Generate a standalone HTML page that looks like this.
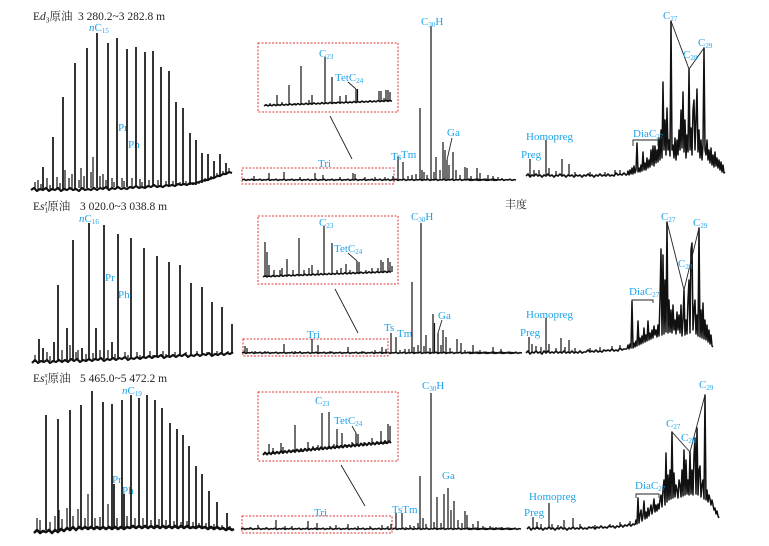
<!DOCTYPE html>
<html><head><meta charset="utf-8">
<style>
html,body{margin:0;padding:0;background:#fff;}
svg{display:block;}
.t{font-family:"Liberation Serif","Noto Serif CJK SC",serif;fill:#231f20;font-size:11.5px;}
.l{font-family:"Liberation Serif",serif;fill:#1ca3ea;font-size:11px;}
.pk{stroke:#111;fill:none;stroke-width:1.7;}
.pm{stroke:#111;fill:none;stroke-width:1.2;}
.bl{stroke:#111;fill:none;stroke-width:2.2;stroke-linejoin:round;}
.bm{stroke:#111;fill:none;stroke-width:1.6;stroke-linejoin:round;}
.zz{stroke:#111;fill:none;stroke-width:1.5;stroke-linejoin:round;}
.ln{stroke:#222;fill:none;stroke-width:0.9;}
.rb{stroke:#e0363b;fill:none;stroke-width:1;stroke-dasharray:2 1.5;}
</style></head>
<body>
<svg width="769" height="546" viewBox="0 0 769 546" xmlns="http://www.w3.org/2000/svg">

<!-- ================= ROW 1 ================= -->
<text class="t" x="33" y="20">E<tspan font-style="italic">d</tspan><tspan font-size="7.5" dy="2.5">3</tspan><tspan dy="-2.5">原油</tspan></text>
<text class="t" x="78" y="20">3 280.2~3 282.8 m</text>
<text class="l" x="89" y="31"><tspan font-style="italic">n</tspan>C<tspan font-size="7" dy="2">15</tspan></text>
<text class="l" x="118" y="131">Pr</text>
<text class="l" x="128" y="148">Ph</text>

<polyline class="bl" points="31,190 34,188 37,191 40,189 43,190 46,188 49,191 52,189 55,190 58,188 61,191 64,189 67,190 70,188 73,190 76,189 79,191 82,188 85,190 88,189 91,190 94,188 97,190 100,188 103,189 106,187 109,190 112,188 115,189 118,187 121,189 124,188 127,189 130,187 133,188 136,186 139,188 142,187 145,188 148,186 151,187 154,185 157,187 160,186 163,187 166,185 169,186 172,185 175,186 178,184 181,185 184,184 187,185 190,183 193,184 196,183 199,182 202,181 205,180 208,180 211,178 214,178 217,176 220,176 223,174 226,174 229,172 232,173"/>
<path class="pk" d="M43 190V167M53 189V137M63 189V97M75 189V63M87 188V48M97 188V33M108 188V43M117 187V38M127 187V49M136 187V47M145 187V52M153 186V51M161 186V67M169 186V71M176 186V102M183 185V108M190 185V133M196 185V140M202 183V153M208 181V154M214 178V161M220 176V154M226 174V163"/>
<path class="pm" d="M35 190V182M38 190V180M41 190V184M47 190V178M50 190V185M57 189V177M60 189V183M65 189V170M69 189V178M72 189V174M79 188V180M81 188V168M84 188V176M91 188V172M93 188V157M100 188V176M103 188V174M106 188V180M112 187V178M114 187V182M122 187V178M124 187V181M132 187V178M140 187V179M142 187V182M149 186V180M158 186V180M166 186V181M173 186V181M180 185V182M186 185V181M193 185V182M199 184V181M205 182V178M211 180V176M217 177V173M223 175V171M229 173V168"/>

<!-- middle row1 -->
<path class="bm" d="M242 180l2-.8 2 1.2 2-.8 2 .4 2-.8 2 1.2 2-.8 2 .4 2-.8 2 1.2 2-.8 2 .4 2-.8 2 1.2 2-.8 2 .4 2-.8 2 1.2 2-.8 2 .4 2-.8 2 1.2 2-.8 2 .4 2-.8 2 1.2 2-.8 2 .4 2-.8 2 1.2 2-.8 2 .4 2-.8 2 1.2 2-.8 2 .4 2-.8 2 1.2 2-.8 2 .4 2-.8 2 1.2 2-.8 2 .4 2-.8 2 1.2 2-.8 2 .4 2-.8 2 1.2 2-.8 2 .4 2-.8 2 1.2 2-.8 2 .4 2-.8 2 1.2 2-.8 2 .4 2-.8 2 1.2 2-.8 2 .4 2-.8 2 1.2 2-.8 2 .4 2-.8 2 1.2 2-.8 2 .4 2-.8 2 1.2 2-.8 2 .4 2-.8 2 1.2 2-.8 2 .4 2-.8 2 1.2 2-.8 2 .4 2-.8 2 1.2 2-.8 2 .4 2-.8 2 1.2 2-.8 2 .4 2-.8 2 1.2 2-.8 2 .4 2-.8 2 1.2 2-.8 2 .4 2-.8 2 1.2 2-.8 2 .4 2-.8 2 1.2 2-.8 2 .4 2-.8 2 1.2 2-.8 2 .4 2-.8 2 1.2 2-.8 2 .4 2-.8 2 1.2 2-.8 2 .4 2-.8 2 1.2 2-.8 2 .4 2-.8 2 1.2 2-.8 2 .4"/>
<path class="bm" d="M468 180l2-.8 2 1.2 2-.8 2 .4 2-.8 2 1.2 2-.8 2 .4 2-.8 2 1.2 2-.8 2 .4 2-.8 2 1.2 2-.8 2 .4 2-.8 2 1.2 2-.8 2 .4 2-.8 2 1.2 2-.8 2 .4"/>
<path class="pm" d="M254 180V176M269 180V173M284 180V172M300 180V177M315 180V173M323 180V175M340 180V177M353 180V173M355 180V174M365 180V177M375 180V177M385 180V177M393 180V176M398 180V156M403 180V162M408 180V176M412 180V175M416 180V174M420 180V108M422 180V170M424 180V172M427 180V175M431 180V26M434 180V172M436 180V157M440 180V170M443 180V142M445 180V150M447 180V160M449 180V165M453 180V152M456 180V170M460 180V175M465 180V167M467 180V168M471 180V176M477 180V168M480 180V173M488 180V175M493 180V176M498 180V177M502 180V178"/>
<rect class="rb" x="242" y="168" width="152" height="16"/>
<rect class="rb" x="258" y="43" width="140" height="69"/>
<path class="bm" d="M264 106l2-1.3 2 1.2 2-1 2 .8
2-1.3 2 1.2 2-1 2 .8
2-1.3 2 1.2 2-1 2 .8
2-1.3 2 1.2 2-1 2 .8
2-1.3 2 1.2 2-1 2 .8
2-1.3 2 1.2 2-1 2 .8
2-1.3 2 1.2 2-1 2 .8
2-1.3 2 1.2 2-1 2 .8
2-1.3 2 1.2 2-1 2 .8
2-1.3 2 1.2 2-1 2 .8
2-1.3 2 1.2 2-1 2 .8
2-1.3 2 1.2 2-1 2 .8
2-1.3 2 1.2 2-1 2 .8
2-1.3 2 1.2 2-1 2 .8
2-1.3 2 1.2 2-1 2 .8
2-1.3 2 1.2 2-1 2 .8"/>
<path class="pm" d="M270 106V103M277 105V95M282 105V102M289 105V85M295 105V103M301 105V66M306 104V103M309 104V100M312 104V95M318 104V103M325 104V57M332 103V77M336 103V102M340 103V96M346 103V95M350 103V102M356 102V89M357.5 102V89M365 102V101M370 102V100M375 102V101M379 101V91M381 101V91M384 101V98M386 101V90M388 101V90M390 101V92"/>
<path class="ln" d="M330 116L352 159M348 82L356 89M452 138L447 160"/>
<text class="l" x="319" y="57">C<tspan font-size="7" dy="2">23</tspan></text>
<text class="l" x="335" y="81">TetC<tspan font-size="7" dy="2">24</tspan></text>
<text class="l" x="318" y="167">Tri</text>
<text class="l" x="391" y="160">Ts</text>
<text class="l" x="401" y="158">Tm</text>
<text class="l" x="421" y="25">C<tspan font-size="7" dy="2">30</tspan><tspan dy="-2">H</tspan></text>
<text class="l" x="447" y="136">Ga</text>

<!-- right row1 -->
<polyline class="bm" points="526,176 528,174 530,177 532,175 534,176 536,174 538,176 540,175 542,177 544,175 546,176 548,174 550,176 552,175 554,177 556,175 558,176 560,174 562,176 564,175 566,177 568,175 570,176 572,175 574,177 576,175 578,176 580,175 582,177 584,175 586,176 588,174 590,176 592,175 594,177 596,175 598,176 600,174 602,176 604,175 606,176 608,174 610,176 612,175 614,176 616,173 618,175 620,174 622,175 624,173 626,175 627,175"/>
<path class="pm" d="M530 176V159M534 176V170M539 176V170M546 176V140M549 176V168M556 176V171M562 176V159M569 176V164M575 176V172M590 176V172M605 175V172M615 175V170M620 175V170"/>
<polyline class="zz" points="627,175 628,171 629,175 630,170 631,174 632,168 633,174 634,166 635,173 636,170 637,143 638,172 639,168 640,172 641,165 642,171 643,152 644,170 645,163 646,170 647,158 648,168 649,160 650,167 651,150 652,165 653,146 654,166 655,146 656,163 657,150 658,162 659,138 660,160 661,130 662,158 663,82 664,150 665,120 666,155 667,108 668,150 669,140 670,156 671,21 672,150 673,145 674,158 675,138 676,160 677,140 678,155 679,130 680,150 681,110 682,148 683,92 684,152 685,120 686,158 687,135 688,152 689,69 690,150 691,128 692,155 693,110 694,100 695,150 696,120 697,89 698,152 699,130 700,158 701,140 702,160 703,145 704,48 705,150 706,155 707,140 708,160 709,150 710,163 711,148 712,165 713,155 714,167 715,152 716,166 717,158 718,168 719,160 720,170 721,162 722,172 723,165 724,173 725,172"/>
<path class="ln" d="M633 146V140H658V146M671 21L689 69L704 48"/>
<text class="l" x="521" y="158">Preg</text>
<text class="l" x="526" y="140">Homopreg</text>
<text class="l" x="633" y="137">DiaC<tspan font-size="7" dy="2">27</tspan></text>
<text class="l" x="663" y="19">C<tspan font-size="7" dy="2">27</tspan></text>
<text class="l" x="683" y="58">C<tspan font-size="7" dy="2">28</tspan></text>
<text class="l" x="698" y="46">C<tspan font-size="7" dy="2">29</tspan></text>

<!-- ================= ROW 2 ================= -->
<text class="t" x="33" y="210">E<tspan font-style="italic">s</tspan><tspan font-size="7" dy="2.5">1</tspan><tspan font-size="7" font-style="italic" dx="-3.5" dy="-7">z</tspan><tspan dy="4.5">原油</tspan></text>
<text class="t" x="80" y="210">3 020.0~3 038.8 m</text>
<text class="l" x="79" y="222"><tspan font-style="italic">n</tspan>C<tspan font-size="7" dy="2">16</tspan></text>
<text class="l" x="105" y="281">Pr</text>
<text class="l" x="118" y="298">Ph</text>
<text class="t" x="505" y="208" style="font-size:11px">丰度</text>

<polyline class="bl" points="32,363 35,360 38,363 41,361 44,362 47,360 50,363 53,361 56,362 59,360 62,362 65,360 68,362 71,359 74,361 77,359 80,362 83,360 86,361 89,359 92,361 95,359 98,360 101,358 104,361 107,359 110,360 113,358 116,360 119,358 122,359 125,357 128,360 131,358 134,359 137,357 140,359 143,357 146,358 149,356 152,358 155,356 158,357 161,355 164,358 167,356 170,357 173,355 176,357 179,355 182,356 185,354 188,357 191,355 194,356 197,354 200,356 203,354 206,355 209,353 212,356 215,354 218,355 221,353 224,355 227,353 230,354 233,352"/>
<path class="pk" d="M39 362V339M43 362V348M54 361V342M58 361V285M67 361V328M73 360V240M82 360V348M89 360V223M96 359V328M104 359V225M112 359V342M118 359V234M131 358V238M144 358V248M157 357V256M169 357V262M180 356V265M191 356V283M202 355V287M212 355V302M222 354V307M232 354V324"/>
<path class="pm" d="M35 362V355M47 361V352M50 361V356M62 361V350M70 360V345M76 360V352M78 360V350M86 360V354M93 360V353M100 359V350M108 359V350M115 359V354M125 358V352M128 358V355M137 358V352M140 358V355M150 357V351M153 357V355M163 357V351M166 357V354M175 356V352M186 356V352M197 355V351M207 355V352M217 354V351M228 354V351"/>

<!-- middle row2 -->
<path class="bm" d="M242 353l2-.8 2 1.2 2-.8 2 .4 2-.8 2 1.2 2-.8 2 .4 2-.8 2 1.2 2-.8 2 .4 2-.8 2 1.2 2-.8 2 .4 2-.8 2 1.2 2-.8 2 .4 2-.8 2 1.2 2-.8 2 .4 2-.8 2 1.2 2-.8 2 .4 2-.8 2 1.2 2-.8 2 .4 2-.8 2 1.2 2-.8 2 .4 2-.8 2 1.2 2-.8 2 .4 2-.8 2 1.2 2-.8 2 .4 2-.8 2 1.2 2-.8 2 .4 2-.8 2 1.2 2-.8 2 .4 2-.8 2 1.2 2-.8 2 .4 2-.8 2 1.2 2-.8 2 .4 2-.8 2 1.2 2-.8 2 .4 2-.8 2 1.2 2-.8 2 .4 2-.8 2 1.2 2-.8 2 .4 2-.8 2 1.2 2-.8 2 .4 2-.8 2 1.2 2-.8 2 .4 2-.8 2 1.2 2-.8 2 .4 2-.8 2 1.2 2-.8 2 .4 2-.8 2 1.2 2-.8 2 .4 2-.8 2 1.2 2-.8 2 .4 2-.8 2 1.2 2-.8 2 .4 2-.8 2 1.2 2-.8 2 .4 2-.8 2 1.2 2-.8 2 .4 2-.8 2 1.2 2-.8 2 .4 2-.8 2 1.2 2-.8 2 .4 2-.8 2 1.2 2-.8 2 .4 2-.8 2 1.2 2-.8 2 .4 2-.8 2 1.2 2-.8 2 .4 2-.8 2 1.2 2-.8 2 .4 2-.8 2 1.2 2-.8 2 .4 2-.8 2 1.2 2-.8 2 .4"/>
<path class="bm" d="M468 353l2-.8 2 1.2 2-.8 2 .4 2-.8 2 1.2 2-.8 2 .4 2-.8 2 1.2 2-.8 2 .4 2-.8 2 1.2 2-.8 2 .4 2-.8 2 1.2 2-.8 2 .4 2-.8 2 1.2 2-.8 2 .4"/>
<path class="pm" d="M245 353V346M247 353V348M255 353V351M265 353V351M284 353V344M295 353V351M300 353V351M312 353V339M318 353V345M330 353V351M348 353V347M362 353V351M375 353V350M382 353V347M386 353V349M391 353V333M396 353V337M400 353V350M405 353V349M409 353V349M412 353V282M414 353V347M418 353V345M421 353V223M424 353V346M426 353V335M430 353V348M433 353V314M434.5 353V323M438 353V333M441 353V345M443 353V330M446 353V337M450 353V348M457 353V339M461 353V343M465 353V350M473 353V345M480 353V350M493 353V347M501 353V349"/>
<rect class="rb" x="243" y="339" width="145" height="17"/>
<rect class="rb" x="258" y="216" width="140" height="68"/>
<path class="bm" d="M263 277l2-1.3 2 1.2 2-1 2 .8
2-1.3 2 1.2 2-1 2 .8
2-1.3 2 1.2 2-1 2 .8
2-1.3 2 1.2 2-1 2 .8
2-1.3 2 1.2 2-1 2 .8
2-1.3 2 1.2 2-1 2 .8
2-1.3 2 1.2 2-1 2 .8
2-1.3 2 1.2 2-1 2 .8
2-1.3 2 1.2 2-1 2 .8
2-1.3 2 1.2 2-1 2 .8
2-1.3 2 1.2 2-1 2 .8
2-1.3 2 1.2 2-1 2 .8
2-1.3 2 1.2 2-1 2 .8
2-1.3 2 1.2 2-1 2 .8
2-1.3 2 1.2 2-1 2 .8
2-1.3 2 1.2 2-1 2 .8"/>
<path class="pm" d="M265 277V242M267 277V252M269 277V265M274 277V270M280 276V270M282 276V268M287 276V259M293 276V270M299 276V238M304 275V270M309 275V268M312 275V265M318 275V270M324 275V226M332 274V243M337 274V270M341 274V268M346 274V264M350 274V270M357 273V261M359 273V262M366 273V270M372 273V268M378 273V268M381 272V260M383 272V262M388 272V258M390 272V262M392 272V266"/>
<path class="ln" d="M335 289L358 333M348 253L357 261M442 320L438 333"/>
<text class="l" x="319" y="226">C<tspan font-size="7" dy="2">23</tspan></text>
<text class="l" x="334" y="252">TetC<tspan font-size="7" dy="2">24</tspan></text>
<text class="l" x="307" y="338">Tri</text>
<text class="l" x="384" y="331">Ts</text>
<text class="l" x="397" y="337">Tm</text>
<text class="l" x="411" y="220">C<tspan font-size="7" dy="2">30</tspan><tspan dy="-2">H</tspan></text>
<text class="l" x="438" y="319">Ga</text>

<!-- right row2 -->
<polyline class="bm" points="526,353 528,351 530,354 532,352 534,353 536,351 538,353 540,352 542,354 544,351 546,353 548,351 550,353 552,352 554,353 556,351 558,353 560,352 562,353 564,351 566,353 568,352 570,353 572,351 574,353 576,352 578,353 580,351 582,353 584,352 586,352 588,350 590,352 592,351 594,352 596,350 598,352 600,351 602,352 604,350 606,351 608,350 610,351 612,349 614,351 616,350 618,351 620,348 622,350 624,349 627,349"/>
<path class="pm" d="M529 353V337M532 353V344M536 352V346M541 352V347M546 352V318M549 352V344M556 352V348M561 352V338M565 352V347M569 352V340M575 352V348M590 351V348M600 351V347M612 350V346M620 349V345"/>
<polyline class="zz" points="627,349 628,345 629,349 630,344 631,348 632,301 633,348 634,343 635,347 636,341 637,346 638,321 639,345 640,338 641,344 642,336 643,343 644,328 645,342 646,335 647,341 648,321 649,340 650,333 651,339 652,330 653,338 654,326 655,335 656,330 657,337 658,325 659,336 660,300 661,249 662,335 663,255 664,334 665,280 666,332 667,222 668,333 669,300 670,332 671,310 672,333 673,305 674,330 675,320 676,334 677,312 678,330 679,315 680,333 681,305 682,336 683,320 684,290 685,335 686,320 687,334 688,300 689,280 690,333 691,250 692,243 693,330 694,310 695,300 696,334 697,315 698,336 699,228 700,337 701,310 702,338 703,303 704,339 705,320 706,340 707,325 708,342 709,330 710,344 711,335 712,346 713,347"/>
<path class="ln" d="M632 303V300H653V303M667 222L684 290L699 228"/>
<text class="l" x="520" y="336">Preg</text>
<text class="l" x="526" y="318">Homopreg</text>
<text class="l" x="629" y="295">DiaC<tspan font-size="7" dy="2">27</tspan></text>
<text class="l" x="661" y="220">C<tspan font-size="7" dy="2">27</tspan></text>
<text class="l" x="678" y="267">C<tspan font-size="7" dy="2">28</tspan></text>
<text class="l" x="693" y="226">C<tspan font-size="7" dy="2">29</tspan></text>

<!-- ================= ROW 3 ================= -->
<text class="t" x="33" y="382">E<tspan font-style="italic">s</tspan><tspan font-size="7" dy="2.5">1</tspan><tspan font-size="7" font-style="italic" dx="-3.5" dy="-7">x</tspan><tspan dy="4.5">原油</tspan></text>
<text class="t" x="80" y="382">5 465.0~5 472.2 m</text>
<text class="l" x="122" y="394"><tspan font-style="italic">n</tspan>C<tspan font-size="7" dy="2">19</tspan></text>
<text class="l" x="112" y="483">Pr</text>
<text class="l" x="122" y="494">Ph</text>

<polyline class="bl" style="stroke-width:2.6" points="34,533 37,530 40,533 43,531 46,532 49,530 52,533 55,530 58,532 61,529 64,531 67,528 70,530 73,527 76,530 79,527 82,529 85,527 88,529 91,527 94,529 97,527 100,529 103,527 106,529 109,527 112,529 115,527 118,529 121,527 124,529 127,527 130,528 133,526 136,528 139,526 142,528 145,526 148,528 151,526 154,528 157,526 160,528 163,526 166,528 169,526 172,528 175,526 178,528 181,526 184,528 187,526 190,528 193,527 196,528 199,526 202,528 205,527 208,529 211,527 214,529 217,527 220,529 223,528 226,530 229,528 232,530 234,529"/>
<path class="pk" d="M46 530V415M58 530V419M70 529V410M81 528V405M92 528V391M103 528V402M112 528V404M122 528V400M131 527V395M139 527V398M147 527V395M155 527V400M162 527V408M170 527V423M177 527V429M183 527V435M189 527V446M196 527V466M202 527V474M209 528V491M217 528V502M227 529V513M114 528V484M124 528V494"/>
<path class="pm" d="M37 532V518M40 532V520M50 530V522M55 530V516M59 530V510M62 530V519M67 529V508M73 529V516M78 529V509M85 528V518M88 528V494M95 528V518M100 528V517M108 528V504M117 528V518M127 527V516M135 527V518M143 527V518M151 527V520M159 527V519M166 527V520M174 527V521M181 527V522M187 527V521M193 527V522M199 527V523M206 528V523M214 528V524M222 529V525M230 529V526"/>

<!-- middle row3 -->
<path class="bm" d="M241 529l2-.8 2 1.2 2-.8 2 .4 2-.8 2 1.2 2-.8 2 .4 2-.8 2 1.2 2-.8 2 .4 2-.8 2 1.2 2-.8 2 .4 2-.8 2 1.2 2-.8 2 .4 2-.8 2 1.2 2-.8 2 .4 2-.8 2 1.2 2-.8 2 .4 2-.8 2 1.2 2-.8 2 .4 2-.8 2 1.2 2-.8 2 .4 2-.8 2 1.2 2-.8 2 .4 2-.8 2 1.2 2-.8 2 .4 2-.8 2 1.2 2-.8 2 .4 2-.8 2 1.2 2-.8 2 .4 2-.8 2 1.2 2-.8 2 .4 2-.8 2 1.2 2-.8 2 .4 2-.8 2 1.2 2-.8 2 .4 2-.8 2 1.2 2-.8 2 .4 2-.8 2 1.2 2-.8 2 .4 2-.8 2 1.2 2-.8 2 .4 2-.8 2 1.2 2-.8 2 .4 2-.8 2 1.2 2-.8 2 .4 2-.8 2 1.2 2-.8 2 .4 2-.8 2 1.2 2-.8 2 .4 2-.8 2 1.2 2-.8 2 .4 2-.8 2 1.2 2-.8 2 .4 2-.8 2 1.2 2-.8 2 .4 2-.8 2 1.2 2-.8 2 .4 2-.8 2 1.2 2-.8 2 .4 2-.8 2 1.2 2-.8 2 .4 2-.8 2 1.2 2-.8 2 .4 2-.8 2 1.2 2-.8 2 .4 2-.8 2 1.2 2-.8 2 .4 2-.8 2 1.2 2-.8 2 .4 2-.8 2 1.2 2-.8 2 .4 2-.8 2 1.2 2-.8 2 .4"/>
<path class="bm" d="M467 529l2-.8 2 1.2 2-.8 2 .4 2-.8 2 1.2 2-.8 2 .4 2-.8 2 1.2 2-.8 2 .4 2-.8 2 1.2 2-.8 2 .4 2-.8 2 1.2 2-.8 2 .4 2-.8 2 1.2 2-.8 2 .4"/>
<path class="pm" d="M250 529V527M258 529V525M266 529V527M276 529V520M285 529V526M292 529V526M308 529V521M317 529V523M330 529V526M336 529V525M348 529V524M358 529V526M370 529V526M382 529V525M388 529V526M391 529V524M396 529V513M402 529V513M406 529V527M410 529V525M414 529V526M418 529V523M420 529V476M423 529V518M426 529V524M431 529V393M434 529V522M437 529V497M441 529V523M444 529V494M448 529V488M451 529V510M454 529V501M458 529V520M462 529V523M465 529V511M467 529V515M473 529V524M478 529V521M483 529V526M490 529V526M496 529V527M502 529V527"/>
<rect class="rb" x="242" y="516" width="150" height="17"/>
<rect class="rb" x="258" y="392" width="140" height="69"/>
<path class="bm" style="stroke-width:2" d="M263 455l2-2.5 2 2 2-2 2 1.75
2-2.5 2 2 2-2 2 1.75
2-2.5 2 2 2-2 2 1.75
2-2.5 2 2 2-2 2 1.75
2-2.5 2 2 2-2 2 1.75
2-2.5 2 2 2-2 2 1.75
2-2.5 2 2 2-2 2 1.75
2-2.5 2 2 2-2 2 1.75
2-2.5 2 2 2-2 2 1.75
2-2.5 2 2 2-2 2 1.75
2-2.5 2 2 2-2 2 1.75
2-2.5 2 2 2-2 2 1.75
2-2.5 2 2 2-2 2 1.75
2-2.5 2 2 2-2 2 1.75
2-2.5 2 2 2-2 2 1.75
2-2.5 2 2 2-2 2 1.75"/>
<path class="pm" d="M269 454V444M273 454V448M281 453V443M283 453V447M295 452V425M301 452V448M308 451V442M313 450V446M318 450V445M322 450V413M329 449V412M334 448V444M337 448V429M342 448V433M347 447V445M352 447V442M356 446V433M358 446V434M364 446V442M372 445V438M377 444V442M381 444V431M385 444V440M388 443V424M390 443V426"/>
<path class="ln" d="M341 465L365 506M352 426L356 433"/>
<text class="l" x="315" y="404">C<tspan font-size="7" dy="2">23</tspan></text>
<text class="l" x="334" y="424">TetC<tspan font-size="7" dy="2">24</tspan></text>
<text class="l" x="314" y="516">Tri</text>
<text class="l" x="392" y="513">TsTm</text>
<text class="l" x="422" y="389">C<tspan font-size="7" dy="2">30</tspan><tspan dy="-2">H</tspan></text>
<text class="l" x="442" y="479">Ga</text>

<!-- right row3 -->
<polyline class="bm" points="527,529 529,527 531,530 533,528 535,529 537,527 539,529 541,528 543,530 545,528 547,529 549,527 551,529 553,528 555,530 557,528 559,529 561,527 563,529 565,528 567,530 569,528 571,529 573,527 575,529 577,528 579,529 581,527 583,529 585,528 587,529 589,527 591,528 593,527 595,529 597,527 599,528 601,526 603,528 605,527 607,528 609,526 611,527 613,526 615,528 617,526 619,527 621,525 623,527 625,525 627,526 629,524 631,526 633,524 635,525"/>
<path class="pm" d="M533 529V517M537 529V522M541 529V524M549 528V503M552 528V524M558 528V525M564 528V520M573 528V518M580 528V524M595 528V525M610 527V524M620 527V522M630 525V521"/>
<polyline class="zz" points="635,525 636,520 637,524 638,498 639,523 640,515 641,510 642,521 643,516 644,501 645,519 646,512 647,518 648,508 649,516 650,510 651,505 652,514 653,508 654,499 655,512 656,505 657,511 658,504 659,509 660,500 661,495 662,507 663,490 664,480 665,505 666,453 667,502 668,475 669,500 670,470 671,499 672,432 673,498 674,473 675,497 676,485 677,490 678,498 679,480 680,485 681,497 682,470 683,496 684,450 685,495 686,460 687,494 688,480 689,495 690,452 691,494 692,470 693,495 694,455 695,438 696,494 697,428 698,495 699,470 700,466 701,497 702,485 703,480 704,499 705,395 706,500 707,490 708,502 709,495 710,499 711,505 712,500 713,505 714,510 715,508 716,514 717,511 718,516 719,518"/>
<path class="ln" d="M636 498V494H659V498M672 432L690 452L705 395"/>
<text class="l" x="524" y="516">Preg</text>
<text class="l" x="529" y="500">Homopreg</text>
<text class="l" x="635" y="489">DiaC<tspan font-size="7" dy="2">27</tspan></text>
<text class="l" x="666" y="427">C<tspan font-size="7" dy="2">27</tspan></text>
<text class="l" x="681" y="441">C<tspan font-size="7" dy="2">28</tspan></text>
<text class="l" x="699" y="388">C<tspan font-size="7" dy="2">29</tspan></text>

</svg>
</body></html>
